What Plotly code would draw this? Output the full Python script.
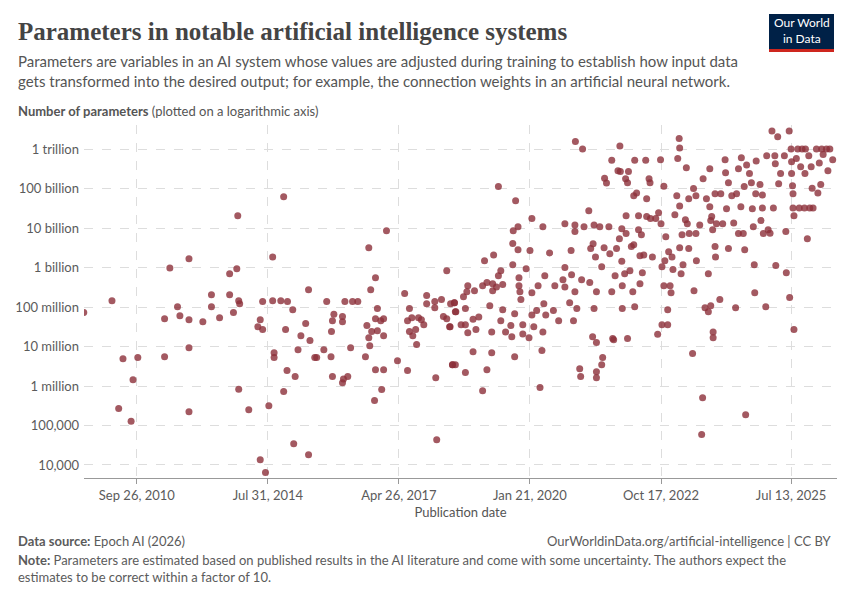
import numpy as np
import plotly.graph_objects as go

# publication date (decimal year) and log10(number of parameters)
pub_year = [2010.73,2011.32,2011.55,2011.46,2011.72,2011.76,2011.86,2012.42,2012.42,2012.53,2012.69,2012.74,2012.93,2012.93,2012.93,2012.93,2013.22,2013.40,2013.40,2013.57,2013.78,2013.78,2013.86,2013.93,2013.95,2013.97,2013.99,2013.97,2014.18,2014.37,2014.42,2014.47,2014.47,2014.42,2014.53,2014.60,2014.68,2014.68,2014.71,2014.71,2014.85,2014.91,2014.95,2014.98,2014.91,2014.99,2015.10,2015.15,2015.12,2015.27,2015.37,2015.21,2015.43,2015.46,2015.43,2015.56,2015.60,2015.75,2015.81,2015.90,2015.91,2015.93,2015.96,2015.93,2016.14,2016.14,2016.14,2016.16,2016.25,2016.19,2016.35,2016.46,2016.31,2016.62,2016.65,2016.69,2016.73,2016.83,2016.87,2016.83,2016.75,2016.69,2016.71,2016.83,2016.81,2016.96,2017.00,2017.06,2016.87,2016.94,2017.00,2017.00,2017.29,2017.44,2017.50,2017.54,2017.50,2017.59,2017.54,2017.61,2017.67,2017.69,2017.73,2017.79,2017.84,2017.90,2017.90,2018.07,2018.07,2018.21,2018.11,2018.09,2018.32,2018.25,2018.32,2018.38,2018.40,2018.48,2018.50,2018.44,2018.50,
 2018.39,2018.48,2018.51,2018.44,2018.71,2018.71,2018.62,2018.71,2018.76,2018.67,2018.76,2018.74,2018.87,2018.87,2018.93,2018.99,2018.90,2019.07,2019.07,2019.11,2019.16,2019.16,2019.22,2019.26,2019.26,2019.28,2019.30,2019.28,2019.36,2019.40,2019.45,2019.40,2019.45,2019.49,2019.49,2019.55,2019.66,2019.68,2019.74,2019.74,2019.70,2019.70,2019.71,2019.76,2019.81,2019.81,2019.83,2019.83,2019.85,2019.87,2019.91,2019.91,2019.98,2020.04,2020.06,2020.10,2020.10,2020.10,2020.14,2020.20,2020.23,2020.27,2020.31,2020.33,2020.33,2020.37,2020.35,2020.39,2020.47,2020.55,2020.58,2020.66,2020.75,2020.79,2020.79,2020.79,2020.89,2020.92,2020.93,2020.97,2021.00,2021.00,2021.00,2021.01,2021.16,2021.04,2021.10,2021.12,2021.14,2021.19,2021.29,2021.31,2021.33,2021.38,2021.40,2021.37,2021.43,2021.40,2021.45,2021.45,2021.45,2021.45,2021.56,2021.58,2021.52,2021.56,2021.61,2021.62,2021.66,2021.71,2021.73,2021.77,2021.77,2021.79,2021.81,2021.84,2021.87,2021.90,2021.94,2021.95,2021.98,2021.93,2021.98,2021.99,2021.99,2022.04,2022.06,2022.07,2022.07,2022.10,2022.10,2022.12,2022.15,2022.18,2022.21,2022.23,2022.25,2022.25,2022.23,2022.29,2022.33,2022.33,2022.36,2022.36,2022.39,2022.41,2022.44,2022.48,2022.50,2022.50,2022.55,2022.57,2022.58,2022.62,2022.69,2022.73,2022.75,2022.79,2022.82,2022.80,2022.82,2022.86,2022.86,2022.88,2022.90,2022.94,2022.94,2022.96,2022.99,2023.01,2023.03,2023.05,2023.09,2023.13,2023.15,2023.18,2023.19,2023.19,2023.19,2023.22,2023.24,2023.26,2023.33,2023.31,2023.35,2023.38,2023.38,2023.39,2023.46,2023.48,2023.49,2023.53,2023.54,2023.53,2023.61,2023.65,2023.67,2023.68,2023.72,2023.75,2023.79,2023.79,2023.82,2023.82,2023.84,2023.84,2023.86,2023.88,2023.89,2023.89,2023.93,2023.93,2023.94,2023.96,2024.03,2024.05,2024.09,2024.14,2024.15,2024.17,2024.21,2024.21,2024.28,2024.32,2024.36,2024.38,2024.42,2024.42,2024.47,2024.48,2024.52,2024.54,2024.55,2024.57,2024.59,2024.65,2024.69,2024.71,2024.73,2024.75,2024.76,2024.78,2024.79,2024.87,2024.89,2024.92,2024.92,2024.94,2024.99,2025.01,2025.04,2025.08,2025.12,2025.15,2025.18,2025.19,2025.20,2025.24,2025.26,2025.30,2025.38,2025.41,2025.42,2025.48,2025.49,2025.52,2025.53,2025.53,2025.55,2025.56,2025.56,2025.58,2025.58,2025.66,2025.63,2025.69,2025.72,2025.75,2025.81,2025.82,2025.80,2025.86,2025.89,2025.91,2025.94,2025.96,2025.98,2026.05,2026.08,2026.11,2026.14,2026.16,2026.19,2026.26,2026.29,2026.33,2026.39]

log10_params = [7.86,8.16,6.69,5.43,5.11,6.16,6.72,7.70,6.74,8.99,8.01,7.78,9.22,7.68,6.97,5.35,7.63,8.31,8.01,7.73,8.84,8.31,7.86,8.97,10.31,8.16,8.08,5.92,5.40,7.50,7.68,8.14,7.43,4.13,3.81,5.50,9.27,8.16,6.84,6.72,8.16,10.79,7.43,6.39,5.86,8.14,7.93,6.24,4.54,7.27,7.58,6.92,8.44,7.15,4.26,6.72,6.72,6.92,8.14,6.74,7.38,7.65,7.82,6.24,7.76,7.63,6.08,6.18,6.24,8.14,8.14,8.14,6.97,6.74,7.53,9.50,8.44,8.74,7.96,7.70,7.38,7.22,7.02,6.41,5.63,5.91,6.41,9.93,7.40,7.65,7.70,7.27,6.64,8.34,6.39,7.96,7.65,7.73,7.38,7.27,7.43,7.05,7.73,7.68,7.55,8.29,8.08,8.14,7.98,8.19,4.64,6.21,8.92,7.76,7.70,7.50,8.08,8.11,7.88,6.54,6.54,
 7.50,8.11,7.88,6.54,7.96,6.34,7.55,7.55,7.35,8.26,8.54,8.39,6.87,7.69,7.43,7.75,8.41,8.54,5.88,9.17,6.41,8.62,8.03,6.84,7.37,8.41,9.32,8.59,8.51,8.79,8.92,11.05,7.65,7.93,8.57,7.37,7.53,7.25,6.74,7.83,9.07,9.61,9.93,10.69,10.03,9.45,8.74,8.54,8.39,8.19,7.55,7.32,8.97,7.22,9.43,10.24,8.36,7.80,7.50,7.91,8.54,5.96,6.90,7.37,10.03,8.79,8.08,7.80,9.37,7.91,8.54,7.65,8.69,9.00,10.11,8.51,8.11,9.43,8.82,7.65,8.39,10.08,9.91,12.19,12.00,7.96,6.44,6.24,8.69,10.03,10.44,8.62,9.48,9.60,10.08,7.25,9.27,7.96,7.10,8.39,6.36,6.21,6.54,6.72,10.03,9.02,9.50,11.26,11.14,10.03,9.35,11.72,8.39,7.20,7.17,8.79,9.48,11.45,12.08,11.43,9.98,9.73,9.16,8.54,7.96,8.84,11.25,10.31,9.86,11.15,7.20,11.43,8.92,9.53,8.39,9.58,8.01,11.72,10.82,10.89,10.31,9.96,9.30,8.59,9.83,8.87,9.32,11.72,10.74,10.29,11.25,11.15,10.24,9.27,10.24,7.31,10.39,11.73,7.55,10.11,9.02,11.06,8.54,9.17,9.78,7.55,7.93,9.40,8.54,8.36,9.27,8.95,10.34,10.82,11.76,12.27,12.03,10.56,9.50,8.84,9.83,9.07,11.53,10.21,10.11,10.74,9.48,9.86,6.82,11.00,8.41,10.82,9.17,9.86,10.08,4.77,5.70,11.25,7.98,10.74,8.84,7.88,11.50,10.54,10.19,8.03,10.29,9.96,7.37,7.22,10.87,9.53,9.27,10.11,8.19,10.87,10.11,11.73,11.40,10.49,9.48,11.15,10.82,10.13,7.98,10.87,11.50,9.86,10.54,11.78,9.86,11.05,9.45,5.27,11.60,11.38,11.15,10.49,10.03,9.07,8.36,10.87,11.70,11.10,10.19,10.84,10.51,9.86,8.01,11.83,9.96,9.87,12.46,10.51,11.83,11.63,9.05,12.31,11.12,11.38,11.83,9.91,8.87,12.46,8.24,12.00,11.38,11.68,11.07,10.87,10.51,10.31,7.43,12.00,11.76,10.51,11.55,12.00,11.38,12.00,10.51,9.73,11.83,10.51,11.55,11.01,10.51,12.00,10.89,11.65,11.10,12.00,11.86,12.00,11.45,12.00,11.73]

x_tick_vals = [2011.84, 2014.58, 2017.32, 2020.06, 2022.80, 2025.52]
x_tick_text = ["Sep 26, 2010", "Jul 31, 2014", "Apr 26, 2017", "Jan 21, 2020", "Oct 17, 2022", "Jul 13, 2025"]
y_tick_vals = [1e4, 1e5, 1e6, 1e7, 1e8, 1e9, 1e10, 1e11, 1e12]
y_tick_text = ["10,000", "100,000", "1 million", "10 million", "100 million", "1 billion", "10 billion", "100 billion", "1 trillion"]

params = np.power(10.0, np.array(log10_params))

fig = go.Figure(go.Scatter(
    x=pub_year, y=params, mode="markers",
    marker=dict(size=7, color="#8c2f3a", opacity=0.8, line=dict(width=0)),
    hoverinfo="skip"))

F = "Lato, 'Noto Sans', sans-serif"
L, R, T, B = 84, 13, 125, 122
W, H = 850 - L - R, 600 - T - B
fig.update_layout(
    width=850, height=600, plot_bgcolor="white", paper_bgcolor="white",
    margin=dict(l=L, r=R, t=T, b=B), showlegend=False,
    font=dict(family=F, color="#5b5b5b", size=13),
    xaxis=dict(range=[2010.735, 2026.48], tickvals=x_tick_vals, ticktext=x_tick_text,
               automargin=False,
               showgrid=True, gridcolor="#dddddd", griddash="dash", zeroline=False,
               showline=True, linecolor="#999", ticks="outside", ticklen=5, tickcolor="#999",
               tickfont=dict(size=13, color="#5b5b5b"),
               title=dict(text="Publication date", font=dict(size=13, color="#555"), standoff=6)),
    yaxis=dict(type="log", range=[3.67, 12.61], tickvals=y_tick_vals, ticktext=y_tick_text,
               automargin=False, ticklabelstandoff=4,
               showgrid=True, gridcolor="#dddddd", griddash="dash", zeroline=False,
               ticks="", tickfont=dict(size=13, color="#5b5b5b")),
)

ann = [
    dict(x=16, y=16, text="<b>Parameters in notable artificial intelligence systems</b>",
         font=dict(family="'Liberation Serif', 'DejaVu Serif', serif", size=25, color="#444")),
    dict(x=16, y=50, text="Parameters are variables in an AI system whose values are adjusted during training to establish how input data<br>gets transformed into the desired output; for example, the connection weights in an artificial neural network.",
         font=dict(size=15, color="#555")),
    dict(x=16, y=101, text="<b>Number of parameters</b> (plotted on a logarithmic axis)", font=dict(size=13, color="#555")),
    dict(x=16, y=531, text="<b>Data source:</b> Epoch AI (2026)", font=dict(size=13, color="#5b5b5b")),
    dict(x=834, y=531, text="OurWorldinData.org/artificial-intelligence | CC BY", xanchor="right", font=dict(size=13, color="#5b5b5b")),
    dict(x=16, y=550, text="<b>Note:</b> Parameters are estimated based on published results in the AI literature and come with some uncertainty. The authors expect the<br>estimates to be correct within a factor of 10.",
         font=dict(size=13, color="#5b5b5b")),
]
annotations = []
for a in ann:
    fnt = a["font"] if "family" in a["font"] else dict(family=F, **a["font"])
    annotations.append(dict(xref="paper", yref="paper", showarrow=False, align="left", yanchor="top",
                            xanchor=a.get("xanchor", "left"),
                            x=(a["x"] - L) / W, y=(600 - B - a["y"]) / H, text=a["text"], font=fnt))
annotations.append(dict(xref="paper", yref="paper", showarrow=False, xanchor="center", yanchor="middle",
                        x=(801.5 - L) / W, y=(600 - B - 31) / H,
                        text="Our World<br>in Data", align="center",
                        font=dict(family=F, size=12, color="white")))
fig.update_layout(annotations=annotations)

def px(x0, y0, x1, y1):
    return dict(xref="paper", yref="paper", x0=(x0 - L) / W, x1=(x1 - L) / W,
                y0=(600 - B - y0) / H, y1=(600 - B - y1) / H)
fig.update_layout(shapes=[
    dict(type="rect", fillcolor="#002147", line=dict(width=0), **px(769, 14, 834, 49)),
    dict(type="rect", fillcolor="#ce261e", line=dict(width=0), **px(769, 49, 834, 52)),
])

fig.write_html("out.html", config={"displayModeBar": False},
               post_script="document.body.style.margin='0';document.body.style.padding='0';")
